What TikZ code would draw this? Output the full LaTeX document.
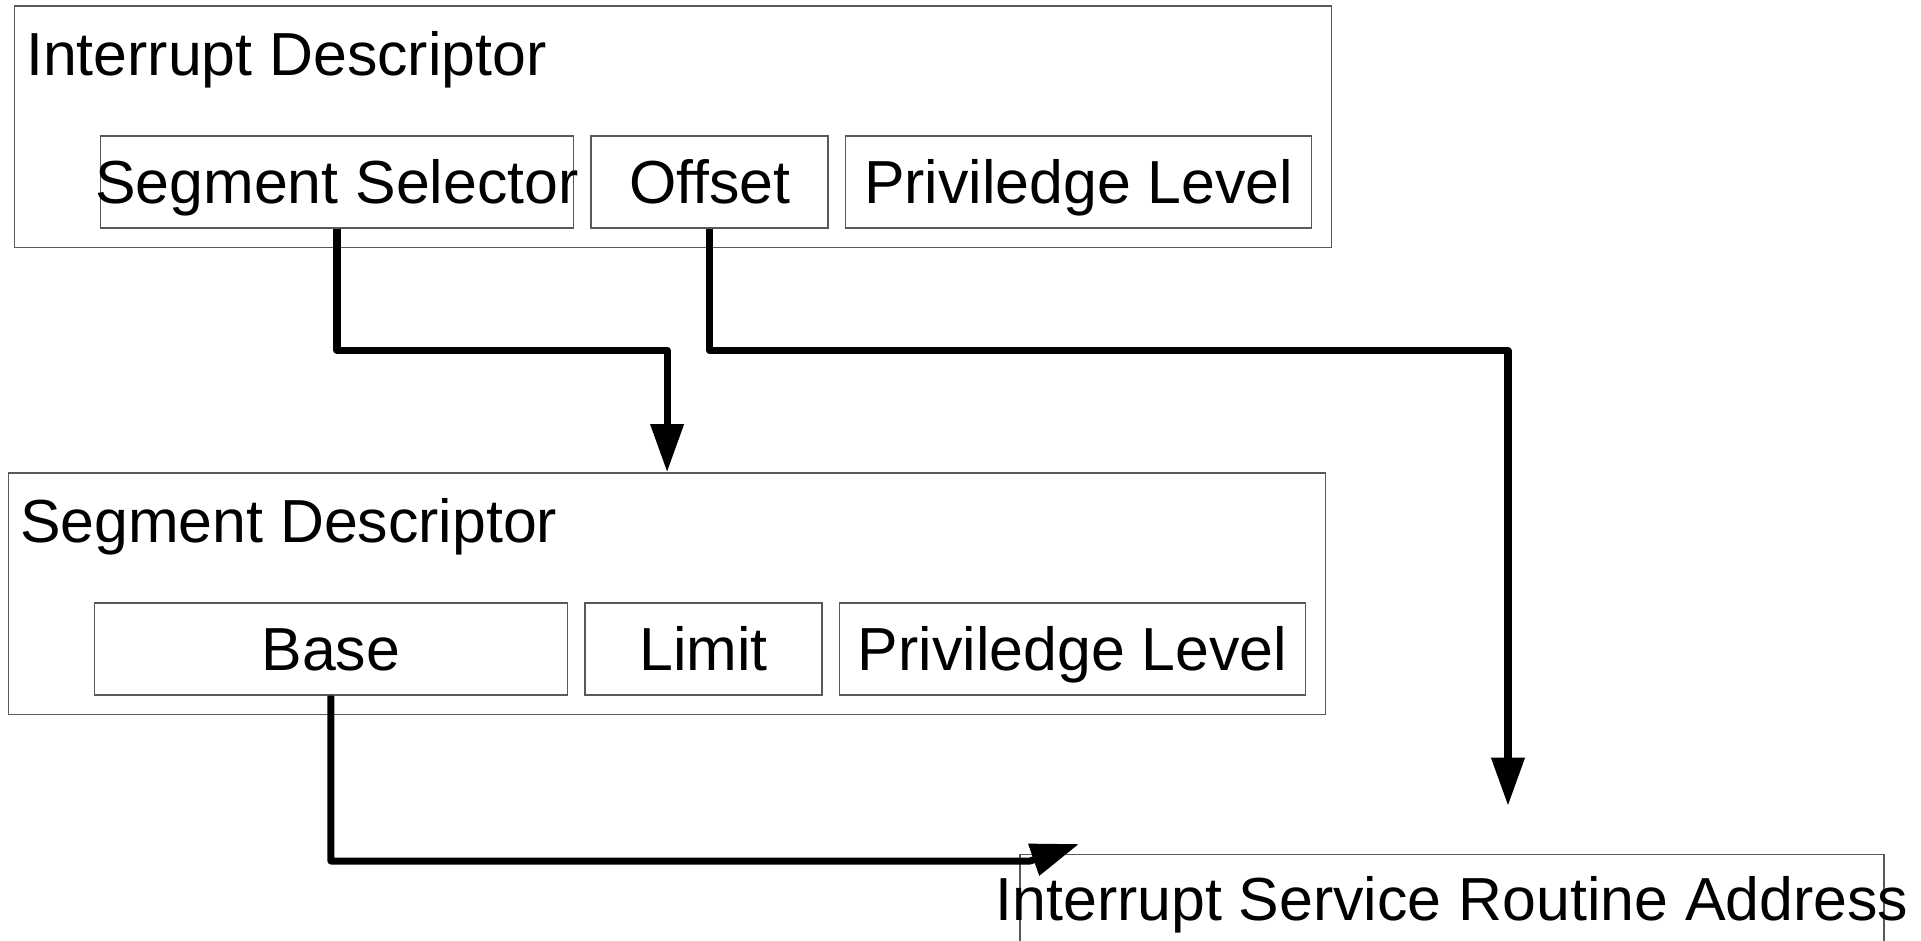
\documentclass[tikz,border=0pt]{standalone}
\usepackage{fontspec}
\setmainfont{Liberation Sans}
\usetikzlibrary{positioning,arrows.meta}

\begin{document}
\begin{tikzpicture}[
    font=\fontsize{17.3}{20}\selectfont,
    box/.style={draw=black!65, line width=0.45pt, inner sep=0pt, minimum height=2.414cm},
    field/.style={draw=black!65, line width=0.45pt, inner sep=0pt, minimum height=0.919cm,
        text height=12.4pt, text depth=0pt},
    title/.style={inner sep=0pt, anchor=base west},
    link/.style={line width=2pt, line join=round, -{Triangle[length=0.48cm, width=0.32cm]}}
]
    % Page frame
    \useasboundingbox (0,0) rectangle (19.21,-9.40);
    \clip (0,0) rectangle (19.21,-9.40);

    % Interrupt descriptor
    \node[box, minimum width=13.17cm] (intdesc) at (6.732,-1.268) {};
    \node[title, xshift=0.115cm, yshift=-0.70cm] (inttitle) at (intdesc.north west) {Interrupt Descriptor};
    \node[field, minimum width=4.73cm, below right=1.299cm and 0.858cm of intdesc.north west] (selector) {\makebox[0pt]{Segment Selector}};
    \node[field, minimum width=2.37cm, right=0.16cm of selector] (offset) {Offset};
    \node[field, minimum width=4.66cm, right=0.16cm of offset] (intpriv) {Priviledge Level};

    % Segment descriptor
    \node[box, minimum width=13.17cm] (segdesc) at (6.671,-5.936) {};
    \node[title, xshift=0.115cm, yshift=-0.70cm] (segtitle) at (segdesc.north west) {Segment Descriptor};
    \node[field, minimum width=4.73cm, below right=1.299cm and 0.858cm of segdesc.north west] (base) {Base};
    \node[field, minimum width=2.37cm, right=0.16cm of base] (limit) {Limit};
    \node[field, minimum width=4.66cm, right=0.16cm of limit] (segpriv) {Priviledge Level};

    % Service routine (runs off the bottom edge)
    \node[box, minimum width=8.637cm, anchor=north west] (isr) at (10.193,-8.539) {};
    \node[title, anchor=base, yshift=-0.67cm] (isrtitle) at (isr.north) {Interrupt Service Routine Address};

    % Routing points
    \coordinate (route) at (0,-3.505);
    \coordinate (isrin) at (15.08,-8.057);
    \coordinate (basebend) at (10.30,-8.61);
    \coordinate (isrtip) at (10.79,-8.44);

    % Arrows
    \draw[link] (selector.south) |- (segdesc.north |- route) -- (segdesc.north);
    \draw[link] (offset.south) |- (isrin |- route) -- (isrin);
    \draw[link] (base.south) |- (basebend) -- (isrtip);
\end{tikzpicture}
\end{document}
